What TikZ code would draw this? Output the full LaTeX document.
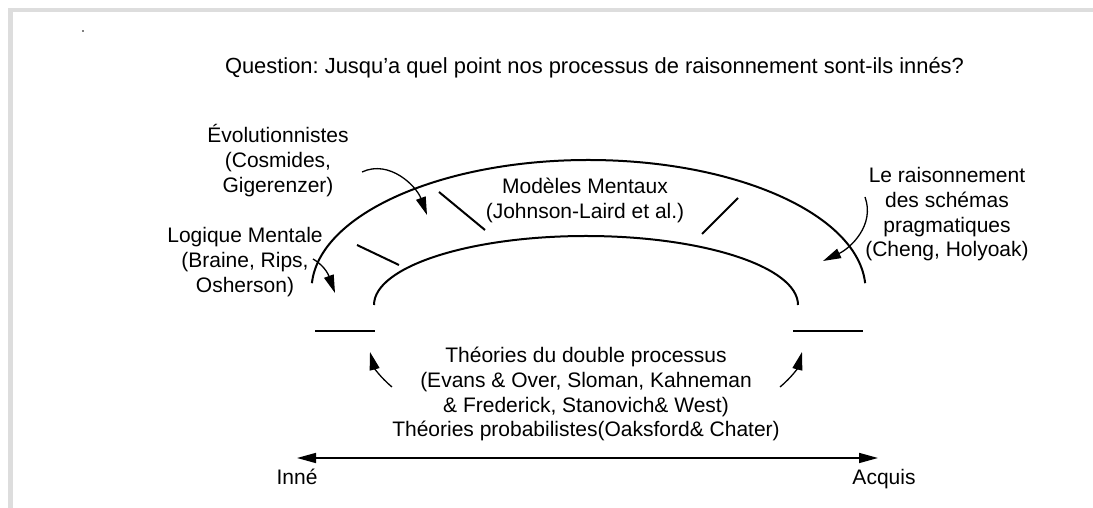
\documentclass[tikz,border=0pt]{standalone}
\usepackage{fontspec}
\setmainfont{Liberation Sans}
\usetikzlibrary{arrows.meta}
\definecolor{bordergray}{RGB}{221,221,221}
\tikzset{
  lbl/.style={font=\fontsize{21}{24.6}\selectfont\frenchspacing, align=center, anchor=base, inner sep=0pt},
  thick arc/.style={line width=2pt},
  bar/.style={line width=2pt},
  curved/.style={line width=1.3pt, -{Triangle[length=18pt,width=10pt]}},
  axis/.style={line width=1.6pt, {Triangle[length=19pt,width=10pt]}-{Triangle[length=19pt,width=10pt]}}
}
\begin{document}
\begin{tikzpicture}[x=1pt,y=1pt]
\useasboundingbox (0,0) rectangle (1093,508);
% page frame
\fill[bordergray] (8,0) rectangle (12.5,500);
\fill[bordergray] (8,495.5) rectangle (1093,500);
\fill (83,477) circle (0.8);
% texts (base anchor = baseline of the last line)
\node[lbl, font=\fontsize{21.9}{24.6}\selectfont\frenchspacing] (title) at (594.5,434) {Question: Jusqu’a quel point nos processus de raisonnement sont-ils innés?};
\node[lbl] (evol) at (278,315.8) {Évolutionnistes\\(Cosmides,\\Gigerenzer)};
\node[lbl] (logique) at (245,215.8) {Logique Mentale\\(Braine, Rips,\\Osherson)};
\node[lbl] (modeles) at (585,289.4) {Modèles Mentaux\\(Johnson-Laird et al.)};
\node[lbl] (schemas) at (947,251.2) {Le raisonnement\\des schémas\\pragmatiques\\(Cheng, Holyoak)};
\node[lbl] (theories) at (586,71.2) {Théories du double processus\\(Evans \& Over, Sloman, Kahneman\\\& Frederick, Stanovich\& West)\\Théories probabilistes(Oaksford\& Chater)};
\node[lbl] (inne) at (297,23) {Inné};
\node[lbl] (acquis) at (884,23) {Acquis};
% arcs
\draw[thick arc] (311.9,224.8) arc[start angle=177,end angle=3,x radius=277,y radius=130];
\draw[thick arc] (374,203) arc[start angle=180,end angle=0,x radius=212,y radius=69];
% bars
\coordinate (b1a) at (315,177); \coordinate (b1b) at (375,177);
\coordinate (b2a) at (793,177); \coordinate (b2b) at (863,177);
\coordinate (s1a) at (357,263); \coordinate (s1b) at (399,243);
\coordinate (s2a) at (439,316); \coordinate (s2b) at (485,278);
\coordinate (s3a) at (738,310); \coordinate (s3b) at (702,274);
\draw[bar] (b1a) -- (b1b);
\draw[bar] (b2a) -- (b2b);
\draw[bar] (s1a) -- (s1b);
\draw[bar] (s2a) -- (s2b);
\draw[bar] (s3a) -- (s3b);
% curved arrows
\coordinate (a1s) at (362,336); \coordinate (a1e) at (427,293);
\coordinate (a2s) at (313,249); \coordinate (a2e) at (335,215);
\coordinate (a3s) at (865,311); \coordinate (a3e) at (823,247);
\coordinate (a4s) at (392,121); \coordinate (a4e) at (370,156);
\coordinate (a5s) at (780,121); \coordinate (a5e) at (802,156);
\draw[curved] (a1s) to[out=25,in=110] (a1e);
\draw[curved] (a2s) to[out=-30,in=110] (a2e);
\draw[curved] (a3s) to[out=-70,in=25] (a3e);
\draw[curved] (a4s) to[out=140,in=-75] (a4e);
\draw[curved] (a5s) to[out=40,in=-105] (a5e);
% axis
\coordinate (ax1) at (297,50); \coordinate (ax2) at (878,50);
\draw[axis] (ax1) -- (ax2);
\end{tikzpicture}
\end{document}
